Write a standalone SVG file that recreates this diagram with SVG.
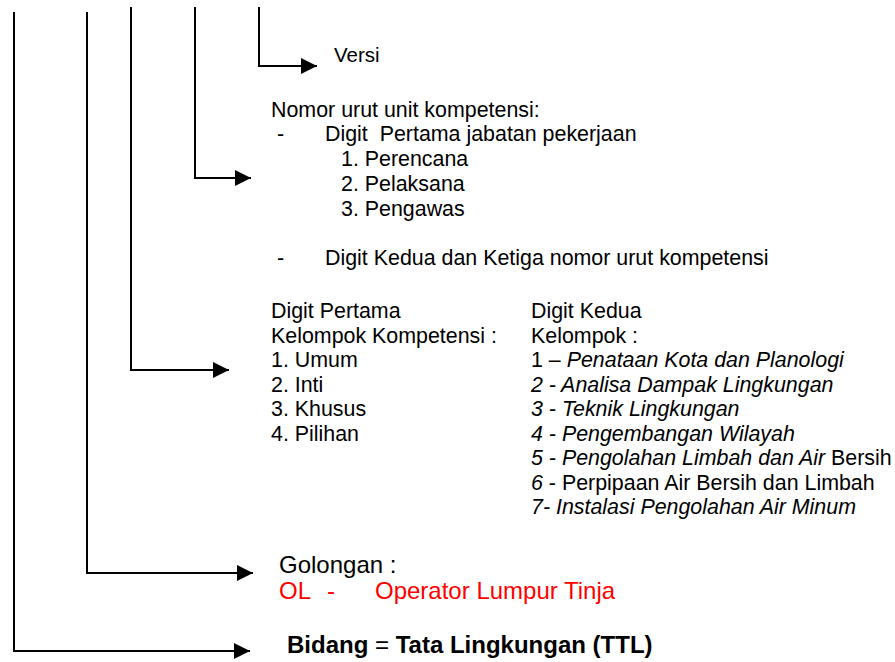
<svg xmlns="http://www.w3.org/2000/svg" width="895" height="662" viewBox="0 0 895 662">
<style>
text{font-family:"Liberation Sans",Arial,sans-serif;font-size:21.4px;fill:#000}
.i{font-style:italic}
.big{font-size:24px}
.red{fill:#ff0000}
.b{font-weight:bold}
.c{fill:none;stroke:#000;stroke-width:2}
</style>
<defs>
<marker id="ah" markerWidth="16" markerHeight="16" refX="16" refY="8" orient="auto" markerUnits="userSpaceOnUse">
<path d="M0,0 L16,8 L0,16 z" fill="#000"/>
</marker>
</defs>
<rect width="895" height="662" fill="#fff"/>
<g id="connectors">
<path class="c" d="M259,7 V66 H317" marker-end="url(#ah)"/>
<path class="c" d="M195,7 V178 H251" marker-end="url(#ah)"/>
<path class="c" d="M131,7 V370 H229" marker-end="url(#ah)"/>
<path class="c" d="M87,12 V573 H253" marker-end="url(#ah)"/>
<path class="c" d="M14,12 V651 H250" marker-end="url(#ah)"/>
</g>
<g id="versi">
<text x="334" y="62" style="font-size:20.5px">Versi</text>
</g>
<g id="nomor">
<text x="271" y="117">Nomor urut unit kompetensi:</text>
<text x="277" y="141">-</text>
<text x="325" y="141" xml:space="preserve">Digit  Pertama jabatan pekerjaan</text>
<text x="341" y="166">1. Perencana</text>
<text x="341" y="191">2. Pelaksana</text>
<text x="341" y="216">3. Pengawas</text>
<text x="277" y="265">-</text>
<text x="325" y="265">Digit Kedua dan Ketiga nomor urut kompetensi</text>
</g>
<g id="digit-pertama">
<text x="271" y="318">Digit Pertama</text>
<text x="271" y="343">Kelompok Kompetensi :</text>
<text x="271" y="367">1. Umum</text>
<text x="271" y="392">2. Inti</text>
<text x="271" y="416">3. Khusus</text>
<text x="271" y="441">4. Pilihan</text>
</g>
<g id="digit-kedua">
<text x="531" y="318">Digit Kedua</text>
<text x="531" y="343">Kelompok :</text>
<text x="531" y="367" xml:space="preserve">1 – <tspan class="i">Penataan Kota dan Planologi</tspan></text>
<text x="531" y="392" class="i">2 - Analisa Dampak Lingkungan</text>
<text x="531" y="416" class="i">3 - Teknik Lingkungan</text>
<text x="531" y="441" class="i">4 - Pengembangan Wilayah</text>
<text x="531" y="465" xml:space="preserve"><tspan class="i">5 - Pengolahan Limbah dan Air</tspan> Bersih</text>
<text x="531" y="490" xml:space="preserve"><tspan class="i">6</tspan> - Perpipaan Air Bersih dan Limbah</text>
<text x="531" y="514" class="i">7- Instalasi Pengolahan Air Minum</text>
</g>
<g id="golongan">
<text x="279" y="573" class="big">Golongan :</text>
<text y="599" class="big red"><tspan x="279">OL</tspan><tspan x="327">-</tspan><tspan x="375">Operator Lumpur Tinja</tspan></text>
</g>
<g id="bidang">
<text x="287" y="653" class="big b">Bidang <tspan style="font-weight:normal">=</tspan> Tata Lingkungan (TTL)</text>
</g>
</svg>
